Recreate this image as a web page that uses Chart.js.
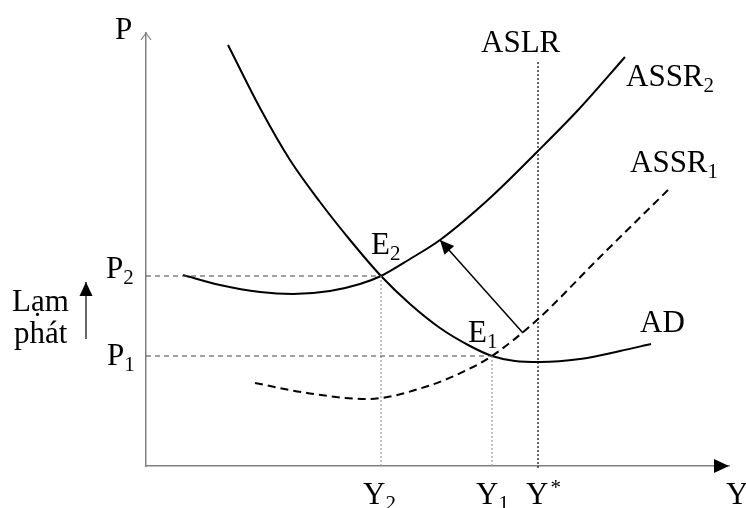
<!DOCTYPE html>
<html>
<head>
<meta charset="utf-8">
<script src="https://cdn.jsdelivr.net/npm/chart.js@4.4.0/dist/chart.umd.min.js"></script>
<style>
  html, body { margin: 0; padding: 0; background: #fff; }
  canvas { display: block; }
</style>
</head>
<body>
<canvas id="myChart" width="746" height="508"></canvas>
<script>
// x = output Y, y = price level P, origin at the corner of the axes
const adCurve = [[82, 421], [114, 358], [144, 306], [174, 264], [204, 226], [235, 190], [264, 162], [294, 138], [324, 120], [346, 110], [369, 105], [394, 104], [434, 107], [474, 115], [505, 122]];
const assr2Curve = [[37, 191], [74, 181], [114, 174], [147, 172], [184, 175], [214, 182], [235, 190], [264, 207], [294, 226], [344, 268], [391, 314], [434, 358], [479, 409]];
const assr1Curve = [[109, 83], [161, 73], [221, 67], [282, 80], [327, 99], [346, 110], [391, 146], [454, 209], [523, 277]];

const outputLevels = [235, 346];   // Y2, Y1
const priceLevels = [190, 110];    // P2, P1
const potentialOutput = 392;       // Y*
const aslrTop = 404;
const shiftArrow = [[377, 133], [294, 226]];   // E1 -> E2
const inflationArrow = [[-60, 127], [-60, 184]];

// text: [label, subscript, superscript, x, y]
const textMarks = [
  ['P', '', '', -31, 427],
  ['ASLR', '', '', 335, 414],
  ['ASSR', '2', '', 480, 380],
  ['ASSR', '1', '', 484, 294],
  ['E', '2', '', 225, 212],
  ['E', '1', '', 322, 124],
  ['AD', '', '', 494, 134],
  ['P', '2', '', -40, 188],
  ['P', '1', '', -39, 101],
  ['Lạm', '', '', -134, 155],
  ['phát', '', '', -132, 123],
  ['Y', '2', '', 217, -38],
  ['Y', '1', '', 330, -38],
  ['Y', '', '*', 380, -38],
  ['Y', '', '', 580, -38]
];

const toPts = arr => arr.map(p => ({ x: p[0], y: p[1] }));

const curve = (data, dash) => ({
  data: toPts(data),
  borderColor: '#000',
  borderWidth: 2,
  borderDash: dash || [],
  cubicInterpolationMode: 'monotone',
  pointRadius: 0,
  clip: false
});

const guide = (data, color, dash) => ({
  data: toPts(data),
  borderColor: color,
  borderWidth: 1.2,
  borderDash: dash,
  pointRadius: 0,
  tension: 0,
  clip: false
});

const arrowLine = (data, width) => ({
  data: toPts(data),
  borderColor: '#000',
  borderWidth: width,
  pointRadius: 0,
  tension: 0,
  clip: false,
  arrowHead: true
});

const datasets = [
  guide([[0, priceLevels[0]], [outputLevels[0], priceLevels[0]]], '#444', [5, 4]),
  guide([[0, priceLevels[1]], [outputLevels[1], priceLevels[1]]], '#444', [5, 4]),
  guide([[outputLevels[0], 0], [outputLevels[0], priceLevels[0]]], '#999', [2, 2]),
  guide([[outputLevels[1], 0], [outputLevels[1], priceLevels[1]]], '#999', [2, 2]),
  guide([[potentialOutput, -2], [potentialOutput, aslrTop]], '#000', [2, 2]),
  curve(assr1Curve, [8, 5]),
  curve(assr2Curve),
  curve(adCurve),
  arrowLine(shiftArrow, 1.5),
  arrowLine(inflationArrow, 1.2)
];

const decorations = {
  id: 'decorations',
  afterDraw(chart) {
    const ctx = chart.ctx;
    const area = chart.chartArea;
    const xs = chart.scales.x, ys = chart.scales.y;
    ctx.save();

    // arrow heads on flagged datasets
    chart.data.datasets.forEach((ds, i) => {
      if (!ds.arrowHead) return;
      const pts = chart.getDatasetMeta(i).data;
      const a = pts[pts.length - 2], b = pts[pts.length - 1];
      const ang = Math.atan2(b.y - a.y, b.x - a.x);
      const len = 14, half = 6.5;
      ctx.fillStyle = '#000';
      ctx.beginPath();
      ctx.moveTo(b.x, b.y);
      ctx.lineTo(b.x - len * Math.cos(ang) + half * Math.sin(ang), b.y - len * Math.sin(ang) - half * Math.cos(ang));
      ctx.lineTo(b.x - len * Math.cos(ang) - half * Math.sin(ang), b.y - len * Math.sin(ang) + half * Math.cos(ang));
      ctx.closePath();
      ctx.fill();
    });

    // axis arrows
    ctx.strokeStyle = '#808080';
    ctx.lineWidth = 1.2;
    ctx.beginPath();
    ctx.moveTo(area.left - 5, area.top + 7);
    ctx.lineTo(area.left, area.top);
    ctx.lineTo(area.left + 5, area.top + 7);
    ctx.stroke();
    ctx.fillStyle = '#000';
    ctx.beginPath();
    ctx.moveTo(area.right, area.bottom);
    ctx.lineTo(area.right - 15, area.bottom - 7);
    ctx.lineTo(area.right - 15, area.bottom + 7);
    ctx.closePath();
    ctx.fill();

    // text
    ctx.textAlign = 'left';
    ctx.textBaseline = 'alphabetic';
    textMarks.forEach(([txt, sub, sup, x, y]) => {
      const px = xs.getPixelForValue(x), py = ys.getPixelForValue(y);
      ctx.font = '31px "Liberation Serif"';
      ctx.fillText(txt, px, py);
      const w = ctx.measureText(txt).width;
      ctx.font = '21px "Liberation Serif"';
      if (sub) ctx.fillText(sub, px + w, py + 6);
      if (sup) ctx.fillText(sup, px + w + 2, py - 10);
    });
    ctx.restore();
  }
};

const hiddenAxis = (max) => ({
  type: 'linear',
  min: 0,
  max: max,
  grid: { display: false, drawTicks: false },
  ticks: { display: false },
  border: { display: true, color: '#808080', width: 1.5 }
});

new Chart(document.getElementById('myChart').getContext('2d'), {
  type: 'line',
  data: { datasets: datasets },
  options: {
    responsive: false,
    animation: false,
    layout: { padding: { left: 146, top: 33, right: 17, bottom: 42 } },
    plugins: { legend: { display: false }, tooltip: { enabled: false } },
    scales: {
      x: hiddenAxis(583),
      y: hiddenAxis(433)
    }
  },
  plugins: [decorations]
});
</script>
</body>
</html>
